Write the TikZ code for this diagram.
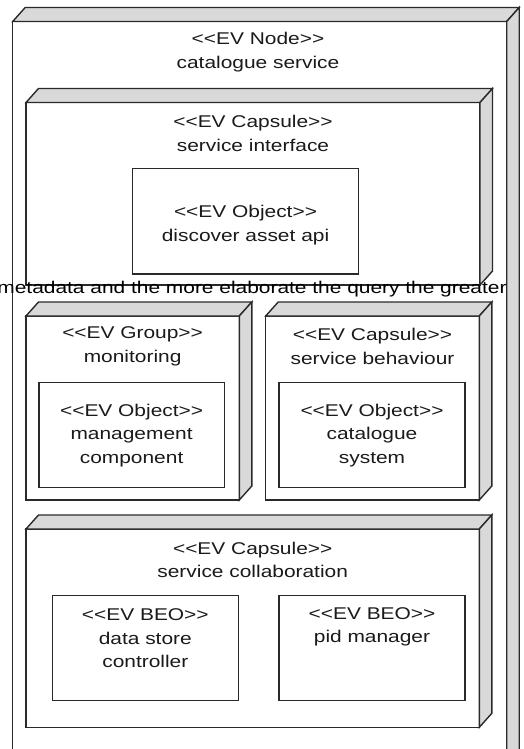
\documentclass[tikz,border=0pt]{standalone}
\usepackage{fontspec}
\newfontfamily\lab{Liberation Sans}[FakeStretch=1.23]
\definecolor{sidegray}{HTML}{D9D9D9}
\definecolor{ln}{HTML}{2A2A2A}
\definecolor{tx}{HTML}{1A1A1A}
\newcommand{\cubebox}[5]{%
  \node[face, anchor=north west, minimum width={(#4)-(#2)}, minimum height={(#5)-(#3)}] (#1) at (#2,#3) {};
  \draw[sideface] (#1.north west) -- ([shift={(12.5,-14)}]#1.north west) -- ([shift={(12.5,-14)}]#1.north east) -- (#1.north east) -- cycle;
  \draw[sideface] (#1.north east) -- ([shift={(12.5,-14)}]#1.north east) -- ([shift={(12.5,-14)}]#1.south east) -- (#1.south east) -- cycle;
}
\begin{document}
\begin{tikzpicture}[x=1pt,y=-1pt,
  face/.style={draw=ln, line width=1.4pt, fill=white, inner sep=0pt, outer sep=0pt},
  sideface/.style={draw=ln, line width=1.4pt, fill=sidegray, line join=miter},
  lbl/.style={font=\lab\fontsize{17}{23.5}\selectfont, text=tx, align=center, inner sep=0pt},
  objbox/.style={face, anchor=north west}
]
\useasboundingbox (0,0) rectangle (523,749);
\clip (0,0) rectangle (523,749);

% outer EV node
\cubebox{outer}{12.7}{21.5}{506.7}{790}
\node[lbl] (tOuter) at (258,52) {<<EV Node>>\\catalogue service};

% service interface
\cubebox{si}{26}{102.5}{480}{285}
\node[lbl] (tSi) at (253,133.5) {<<EV Capsule>>\\service interface};
\node[objbox, minimum width=225.6, minimum height=105.7] (dap) at (132.7,168.3) {};
\node[lbl] (tDap) at (245.5,225) {<<EV Object>>\\discover asset api};

% monitoring
\cubebox{mon}{26}{316}{239.3}{500}
\node[lbl] (tMon) at (132.6,346.5) {<<EV Group>>\\monitoring};
\node[objbox, minimum width=185.3, minimum height=105] (mc) at (39,382.3) {};
\node[lbl] (tMc) at (131.6,435.5) {<<EV Object>>\\management\\component};

% service behaviour
\cubebox{sb}{265.7}{316}{479.3}{500}
\node[lbl] (tSb) at (372.5,346.5) {<<EV Capsule>>\\service behaviour};
\node[objbox, minimum width=186, minimum height=105] (cs) at (279,382.3) {};
\node[lbl] (tCs) at (372,435.5) {<<EV Object>>\\catalogue\\system};

% service collaboration
\cubebox{sc}{26}{529}{479.3}{727.3}
\node[lbl] (tSc) at (252.7,560) {<<EV Capsule>>\\service collaboration};
\node[objbox, minimum width=186, minimum height=105] (ds) at (52.3,595.7) {};
\node[lbl] (tDs) at (145.3,638.5) {<<EV BEO>>\\data store\\controller};
\node[objbox, minimum width=186, minimum height=105] (pid) at (279,595.7) {};
\node[lbl] (tPid) at (372,627) {<<EV BEO>>\\pid manager};

% overflowing text
\node[lbl, anchor=base, text=black] (meta) at (252,293) {metadata and the more elaborate the query the greater};
\end{tikzpicture}
\end{document}
